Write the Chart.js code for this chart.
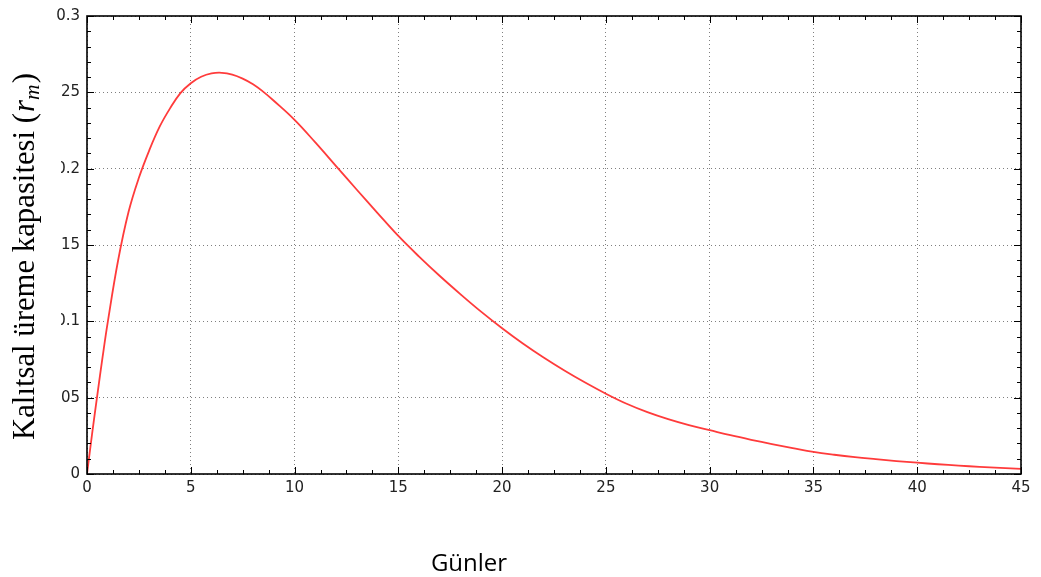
<!DOCTYPE html>
<html>
<head>
<meta charset="utf-8">
<script src="https://cdn.jsdelivr.net/npm/chart.js@4/dist/chart.umd.min.js"></script>
<style>
  html, body { margin: 0; padding: 0; background: #fff; }
  #wrap { width: 1041px; height: 577px; }
</style>
</head>
<body>
<div id="wrap"><canvas id="c" width="1041" height="577"></canvas></div>
<script>
// Veriler
var days = [0, 0.25, 0.5, 0.75, 1, 1.5, 2, 2.5, 3, 3.5, 4, 4.5, 5, 5.5, 6, 6.5, 7, 7.5, 8, 8.5, 9,
  10, 11, 12, 13, 14, 15, 16, 17, 18, 19, 20, 21, 22, 23, 24, 25, 26, 27, 28, 29, 30,
  31, 32, 33, 34, 35, 36, 37, 38, 39, 40, 41, 42, 43, 44, 45];
var rm = [0, 0.0268, 0.052, 0.0765, 0.0995, 0.140, 0.1716, 0.194, 0.212, 0.2275, 0.2395, 0.2495, 0.2560, 0.2602, 0.2624, 0.2628, 0.2616, 0.2590, 0.2553, 0.2503, 0.2445,
  0.232, 0.2172, 0.2017, 0.1862, 0.1709, 0.1559, 0.1424, 0.1297, 0.1177, 0.1062, 0.0955, 0.0855, 0.0763, 0.0678, 0.0599, 0.0526, 0.0460, 0.0405, 0.0359, 0.0320, 0.0287,
  0.0254, 0.0224, 0.0196, 0.0170, 0.0145, 0.0126, 0.0110, 0.0097, 0.0085, 0.0074, 0.0064, 0.0055, 0.0047, 0.0040, 0.0033];
var xTicks = [0, 5, 10, 15, 20, 25, 30, 35, 40, 45];
var yTicks = [0, 0.05, 0.1, 0.15, 0.2, 0.25, 0.3];
var yTickLabels = ['0', '0.05', '0.1', '0.15', '0.2', '0.25', '0.3'];
var xTitle = 'Günler';
var yTitle = 'Kalıtsal üreme kapasitesi (';

var points = days.map(function (d, i) { return {x: d, y: rm[i]}; });

// eksen çerçevesi, içe dönük tikler, başlıklar
var framePlugin = {
  id: 'frame',
  afterDraw: function (chart) {
    var ctx = chart.ctx, a = chart.chartArea;
    var xs = chart.scales.x, ys = chart.scales.y;
    ctx.save();
    ctx.strokeStyle = '#000';
    ctx.lineWidth = 1;
    function tick(x1, y1, x2, y2) {
      ctx.beginPath(); ctx.moveTo(x1, y1); ctx.lineTo(x2, y2); ctx.stroke();
    }
    // x tikleri (alt ve üst)
    for (var v = 0; v <= 45.001; v += 1.25) {
      var px = Math.round(xs.getPixelForValue(v)) + 0.5;
      var major = Math.abs(v / 5 - Math.round(v / 5)) < 1e-6;
      var len = major ? 7 : 4;
      tick(px, a.bottom, px, a.bottom - len);
      tick(px, a.top, px, a.top + len);
    }
    // y tikleri (sol ve sağ)
    for (var k = 0; k <= 30; k++) {
      var py = Math.round(ys.getPixelForValue(k / 100)) + 0.5;
      var len2 = (k % 5 === 0) ? 7 : 4;
      tick(a.left, py, a.left + len2, py);
      tick(a.right, py, a.right - len2, py);
    }
    ctx.lineWidth = 1.6;
    ctx.strokeRect(a.left, a.top, a.right - a.left, a.bottom - a.top);

    // sol kenardaki kırpılmış etiket alanı
    ctx.fillStyle = '#fff';
    ctx.fillRect(0, 25, 61, 552);

    // y başlığı
    var base = 31;
    var serif = '"Liberation Serif", "DejaVu Serif", serif';
    ctx.font = base + 'px ' + serif;
    var w1 = ctx.measureText(yTitle).width;
    ctx.font = 'italic ' + base + 'px ' + serif;
    var w2 = ctx.measureText('r').width;
    ctx.font = 'italic ' + Math.round(base * 0.7) + 'px ' + serif;
    var w3 = ctx.measureText('m').width;
    ctx.font = base + 'px ' + serif;
    var w4 = ctx.measureText(')').width;
    var s = 367 / (w1 + w2 + w3 + w4 + 2);
    ctx.translate(34, 440);
    ctx.rotate(-Math.PI / 2);
    ctx.fillStyle = '#000';
    ctx.textBaseline = 'alphabetic';
    ctx.textAlign = 'left';
    var fs = base * s, x = 0;
    ctx.font = fs + 'px ' + serif;
    ctx.fillText(yTitle, x, 0); x += w1 * s + 1;
    ctx.font = 'italic ' + fs + 'px ' + serif;
    ctx.fillText('r', x, 0); x += w2 * s;
    ctx.font = 'italic ' + (fs * 0.7) + 'px ' + serif;
    ctx.fillText('m', x, 5); x += w3 * s + 1;
    ctx.font = fs + 'px ' + serif;
    ctx.fillText(')', x, 0);
    ctx.restore();

    // x başlığı
    ctx.save();
    ctx.fillStyle = '#000';
    ctx.font = '24px "Open Sans", sans-serif';
    ctx.textAlign = 'center';
    ctx.textBaseline = 'alphabetic';
    ctx.fillText(xTitle, 469, 571);
    ctx.restore();
  }
};

var chart = new Chart(document.getElementById('c'), {
  type: 'line',
  data: {
    datasets: [{
      data: points,
      borderColor: '#ff3b3b',
      borderWidth: 1.8,
      pointRadius: 0,
      fill: false,
      tension: 0.4
    }]
  },
  options: {
    responsive: false,
    animation: false,
    events: [],
    layout: {padding: {left: 0, right: 20, top: 14, bottom: 0}},
    plugins: {legend: {display: false}, tooltip: {enabled: false}},
    scales: {
      x: {
        type: 'linear',
        min: 0, max: 45,
        afterBuildTicks: function (sc) { sc.ticks = xTicks.map(function (v) { return {value: v}; }); },
        afterFit: function (sc) { sc.height = 103; },
        ticks: {
          color: '#222', padding: 5, maxRotation: 0,
          font: {family: '"DejaVu Sans", sans-serif', size: 15},
          callback: function (v) { return String(v); }
        },
        grid: {color: 'rgba(0,0,0,0.5)', lineWidth: 1, drawTicks: false},
        border: {display: false, dash: [1, 3]}
      },
      y: {
        min: 0, max: 0.3,
        afterBuildTicks: function (sc) { sc.ticks = yTicks.map(function (v) { return {value: v}; }); },
        afterFit: function (sc) { sc.width = 87; },
        ticks: {
          color: '#222', padding: 7,
          font: {family: '"DejaVu Sans", sans-serif', size: 15},
          callback: function (v) {
            var i = yTicks.indexOf(v);
            return i >= 0 ? yTickLabels[i] : '';
          }
        },
        grid: {color: 'rgba(0,0,0,0.5)', lineWidth: 1, drawTicks: false},
        border: {display: false, dash: [1, 3]}
      }
    }
  },
  plugins: [framePlugin]
});
</script>
</body>
</html>
